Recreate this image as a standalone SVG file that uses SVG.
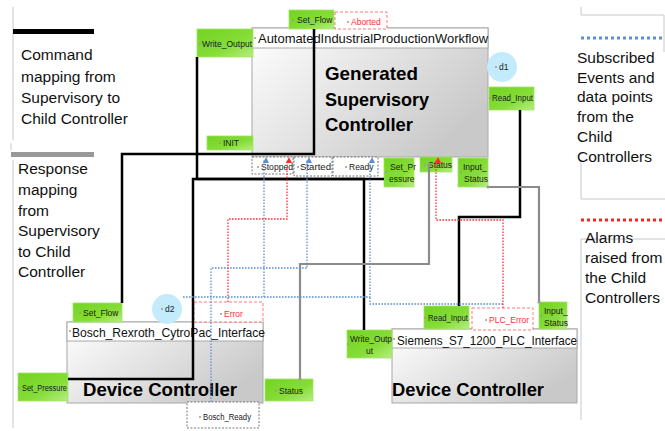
<svg xmlns="http://www.w3.org/2000/svg" width="665" height="431" viewBox="0 0 665 431">
  <defs>
    <linearGradient id="gPort" x1="0" y1="0" x2="1" y2="1">
      <stop offset="0" stop-color="#72d420"/>
      <stop offset="0.6" stop-color="#86dd38"/>
      <stop offset="1" stop-color="#b6ee82"/>
    </linearGradient>
    <linearGradient id="gBody" x1="0" y1="0" x2="1" y2="0.6">
      <stop offset="0" stop-color="#ffffff"/>
      <stop offset="1" stop-color="#c9c9c9"/>
    </linearGradient>
    <marker id="arBlue" viewBox="0 0 6 6" refX="3" refY="1" markerWidth="6" markerHeight="6" orient="auto-start-reverse" markerUnits="userSpaceOnUse">
      <path d="M0,6 L3,0 L6,6 Z" fill="#5b8fd5" transform="rotate(90 3 3)"/>
    </marker>
    <marker id="arRed" viewBox="0 0 6 6" refX="3" refY="1" markerWidth="6" markerHeight="6" orient="auto-start-reverse" markerUnits="userSpaceOnUse">
      <path d="M0,6 L3,0 L6,6 Z" fill="#ff2a2a" transform="rotate(90 3 3)"/>
    </marker>
  </defs>
  <style>
    .port { fill: url(#gPort); stroke: #a4e46a; stroke-width: 0.8; }
    .pt { font-family: "Liberation Sans", Arial, sans-serif; font-size: 8.5px; fill: #1a1a1a; }
    .rt { font-family: "Liberation Sans", Arial, sans-serif; font-size: 8.5px; fill: #ff3030; }
    .dot { fill: #9a9a9a; }
    .evt { fill: #ffffff; stroke: #555; stroke-width: 0.8; stroke-dasharray: 2 1.5; }
    .alm { fill: #ffffff; stroke: #ff6a6a; stroke-width: 0.9; stroke-dasharray: 3 2; }
    .body { fill: url(#gBody); stroke: #a8a8a8; stroke-width: 1; }
    .head { fill: #ffffff; stroke: #a8a8a8; stroke-width: 1; }
    .ttl { font-family: "Liberation Sans", Arial, sans-serif; font-size: 13px; fill: #111; }
    .big { font-family: "Liberation Sans", Arial, sans-serif; font-size: 19px; font-weight: bold; fill: #000; }
    .leg { font-family: "Liberation Sans", Arial, sans-serif; font-size: 15.5px; fill: #111; }
    .circ { fill: #c3ebfb; }
    .cmd { fill: none; stroke: #000; stroke-width: 2.5; }
    .rsp { fill: none; stroke: #8c8c8c; stroke-width: 2.2; }
    .sub { fill: none; stroke: #5b8fd5; stroke-width: 1.3; stroke-dasharray: 1.6 1.4; }
    .ala { fill: none; stroke: #ff3030; stroke-width: 1.3; stroke-dasharray: 1.6 1.4; }
    .frame { fill: none; stroke: #c8c8c8; stroke-width: 1; }
  </style>

  <!-- legend, left -->
  <g id="legend-left">
    <path class="frame" d="M13,7 V140 M11,143 V150 M13,160 V428"/>
    <rect x="13" y="29" width="81" height="5" fill="#000"/>
    <text class="leg" x="21" y="60">Command</text>
    <text class="leg" x="21" y="82">mapping from</text>
    <text class="leg" x="21" y="103">Supervisory to</text>
    <text class="leg" x="21" y="124">Child Controller</text>
    <rect x="11" y="152" width="83" height="5" fill="#999"/>
    <text class="leg" x="18" y="174">Response</text>
    <text class="leg" x="18" y="195">mapping</text>
    <text class="leg" x="18" y="216">from</text>
    <text class="leg" x="18" y="236">Supervisory</text>
    <text class="leg" x="18" y="257">to Child</text>
    <text class="leg" x="18" y="277">Controller</text>
  </g>

  <!-- legend, right -->
  <g id="legend-right">
    <path class="frame" d="M581,7 V15 H664 V52 M581,160 V199 H665 M581,239 H665 M581,239 V420"/>
    <line x1="581" y1="38" x2="665" y2="38" stroke="#5b8fd5" stroke-width="3" stroke-dasharray="3 3"/>
    <text class="leg" x="577" y="63">Subscribed</text>
    <text class="leg" x="577" y="83">Events and</text>
    <text class="leg" x="577" y="102">data points</text>
    <text class="leg" x="577" y="122">from the</text>
    <text class="leg" x="577" y="142">Child</text>
    <text class="leg" x="577" y="162">Controllers</text>
    <line x1="581" y1="220" x2="665" y2="220" stroke="#ff2020" stroke-width="3" stroke-dasharray="3 3"/>
    <text class="leg" x="585" y="243">Alarms</text>
    <text class="leg" x="585" y="263">raised from</text>
    <text class="leg" x="585" y="283">the Child</text>
    <text class="leg" x="585" y="303">Controllers</text>
  </g>

  <!-- supervisory controller -->
  <g id="supervisory">
    <rect class="body" x="252" y="28" width="236" height="129"/>
    <rect class="head" x="252" y="28" width="236" height="20"/>
    <circle class="dot" cx="255" cy="38" r="1"/>
    <text class="ttl" x="258" y="43" textLength="230" lengthAdjust="spacingAndGlyphs">AutomatedIndustrialProductionWorkflow</text>
    <text class="big" x="325" y="80" textLength="93" lengthAdjust="spacingAndGlyphs">Generated</text>
    <text class="big" x="325" y="106" textLength="104" lengthAdjust="spacingAndGlyphs">Supervisory</text>
    <text class="big" x="325" y="131" textLength="88" lengthAdjust="spacingAndGlyphs">Controller</text>
  </g>
  <g id="sup-write-output">
    <rect class="port" x="197" y="29" width="56" height="28"/>
    <circle class="dot" cx="200" cy="44" r="1"/>
    <text class="pt" x="202" y="47" textLength="50" lengthAdjust="spacingAndGlyphs">Write_Output</text>
  </g>
  <g id="sup-set-flow">
    <rect class="port" x="289" y="10" width="45" height="19"/>
    <circle class="dot" cx="293" cy="20" r="1"/>
    <text class="pt" x="297" y="23">Set_Flow</text>
  </g>
  <g id="sup-aborted">
    <rect class="alm" x="335" y="12" width="52" height="17"/>
    <circle class="dot" cx="348" cy="22" r="1"/>
    <text class="rt" x="351" y="25">Aborted</text>
  </g>
  <g id="sup-init">
    <rect class="port" x="207" y="136" width="46" height="14"/>
    <circle class="dot" cx="220" cy="143" r="1"/>
    <text class="pt" x="223" y="146">INIT</text>
  </g>
  <g id="d1">
    <circle class="circ" cx="502" cy="67" r="15"/>
    <circle class="dot" cx="496" cy="67" r="1"/>
    <text class="pt" x="499" y="70">d1</text>
  </g>
  <g id="sup-read-input">
    <rect class="port" x="489" y="87" width="45" height="23"/>
    <circle class="dot" cx="490" cy="98" r="1"/>
    <text class="pt" x="492" y="101" textLength="41" lengthAdjust="spacingAndGlyphs">Read_Input</text>
  </g>
  <g id="sup-stopped">
    <rect class="evt" x="252" y="157" width="41" height="17"/>
    <circle class="dot" cx="258" cy="167" r="1"/>
    <text class="pt" x="261" y="170" textLength="32" lengthAdjust="spacingAndGlyphs">Stopped</text>
  </g>
  <g id="sup-started">
    <rect class="evt" x="294" y="157" width="38" height="19"/>
    <circle class="dot" cx="298" cy="167" r="1"/>
    <text class="pt" x="300" y="170" textLength="31" lengthAdjust="spacingAndGlyphs">Started</text>
  </g>
  <g id="sup-ready">
    <rect class="evt" x="333" y="157" width="45" height="19"/>
    <circle class="dot" cx="346" cy="167" r="1"/>
    <text class="pt" x="349" y="170">Ready</text>
  </g>
  <g id="sup-set-pressure">
    <rect class="port" x="384" y="158" width="30" height="29"/>
    <circle class="dot" cx="386" cy="172" r="1"/>
    <text class="pt" x="390" y="170">Set_Pr</text>
    <text class="pt" x="389" y="182">essure</text>
  </g>
  <g id="sup-status">
    <rect class="port" x="420" y="157" width="32" height="15"/>
    <circle class="dot" cx="425" cy="165" r="1"/>
    <text class="pt" x="428" y="168">Status</text>
  </g>
  <g id="sup-input-status">
    <rect class="port" x="458" y="158" width="30" height="29"/>
    <circle class="dot" cx="461" cy="172" r="1"/>
    <text class="pt" x="463" y="170">Input_</text>
    <text class="pt" x="464" y="182">Status</text>
  </g>

  <!-- Bosch device controller -->
  <g id="bosch">
    <rect class="body" x="67" y="322" width="196" height="81"/>
    <rect class="head" x="67" y="322" width="196" height="19"/>
    <circle class="dot" cx="70" cy="331" r="1"/>
    <text class="ttl" x="72" y="337" textLength="193" lengthAdjust="spacingAndGlyphs">Bosch_Rexroth_CytroPac_Interface</text>
    <text class="big" x="83" y="396" textLength="154" lengthAdjust="spacingAndGlyphs">Device Controller</text>
  </g>
  <g id="bosch-set-flow">
    <rect class="port" x="73" y="303" width="49" height="19"/>
    <circle class="dot" cx="80" cy="313" r="1"/>
    <text class="pt" x="83" y="316">Set_Flow</text>
  </g>
  <g id="d2">
    <circle class="circ" cx="167" cy="309" r="15"/>
    <circle class="dot" cx="162" cy="309" r="1"/>
    <text class="pt" x="165" y="312">d2</text>
  </g>
  <g id="bosch-error">
    <rect class="alm" x="194" y="302" width="69" height="20"/>
    <circle class="dot" cx="221" cy="314" r="1"/>
    <text class="rt" x="224" y="317">Error</text>
  </g>
  <g id="bosch-set-pressure">
    <rect class="port" x="18" y="373" width="50" height="28"/>
    <circle class="dot" cx="19" cy="388" r="1"/>
    <text class="pt" x="22" y="391" textLength="45" lengthAdjust="spacingAndGlyphs">Set_Pressure</text>
  </g>
  <g id="bosch-status">
    <rect class="port" x="265" y="379" width="48" height="22"/>
    <circle class="dot" cx="276" cy="391" r="1"/>
    <text class="pt" x="279" y="394">Status</text>
  </g>
  <g id="bosch-ready">
    <rect class="evt" x="187" y="402" width="72" height="26"/>
    <circle class="dot" cx="200" cy="417" r="1"/>
    <text class="pt" x="203" y="420" textLength="48" lengthAdjust="spacingAndGlyphs">Bosch_Ready</text>
  </g>

  <!-- Siemens device controller -->
  <g id="siemens">
    <rect class="body" x="392" y="329" width="185" height="74"/>
    <rect class="head" x="392" y="329" width="185" height="19"/>
    <circle class="dot" cx="394" cy="339" r="1"/>
    <text class="ttl" x="397" y="345" textLength="180" lengthAdjust="spacingAndGlyphs">Siemens_S7_1200_PLC_Interface</text>
    <text class="big" x="392" y="396" textLength="152" lengthAdjust="spacingAndGlyphs">Device Controller</text>
  </g>
  <g id="siemens-write-output">
    <rect class="port" x="347" y="330" width="45" height="28"/>
    <circle class="dot" cx="348" cy="344" r="1"/>
    <text class="pt" x="350" y="342" textLength="42" lengthAdjust="spacingAndGlyphs">Write_Outp</text>
    <text class="pt" x="366" y="354">ut</text>
  </g>
  <g id="siemens-read-input">
    <rect class="port" x="424" y="306" width="45" height="23"/>
    <circle class="dot" cx="425" cy="318" r="1"/>
    <text class="pt" x="428" y="321" textLength="40" lengthAdjust="spacingAndGlyphs">Read_Input</text>
  </g>
  <g id="siemens-plc-error">
    <rect class="alm" x="472" y="308" width="61" height="22"/>
    <circle class="dot" cx="486" cy="320" r="1"/>
    <text class="rt" x="489" y="323">PLC_Error</text>
  </g>
  <g id="siemens-input-status">
    <rect class="port" x="539" y="302" width="28" height="27"/>
    <circle class="dot" cx="541" cy="316" r="1"/>
    <text class="pt" x="544" y="314">Input_</text>
    <text class="pt" x="544" y="326">Status</text>
  </g>

  <!-- connectors -->
  <g id="connectors">
    <!-- commands -->
    <path class="cmd" d="M314,29 V154 H122 V303"/>
    <path class="cmd" d="M197,57 V179 H364 V330"/>
    <path class="cmd" d="M384,179 H193 V379 H68"/>
    <path class="cmd" d="M520,110 V217 H459 V306"/>
    <!-- responses -->
    <path class="rsp" d="M429,164 V264 H300 V379"/>
    <path class="rsp" d="M488,187 H539 V302"/>
    <circle class="dot" cx="429" cy="164" r="1.5"/>
    <circle class="dot" cx="488" cy="187" r="1.5"/>
    <circle class="dot" cx="539" cy="302" r="1.5"/>
    <circle class="dot" cx="300" cy="379" r="1.5"/>
    <!-- subscribed events -->
    <path class="sub" d="M183,297 H264 V160" marker-end="url(#arBlue)"/>
    <path class="sub" d="M264,297 H370 V160" marker-end="url(#arBlue)"/>
    <path class="sub" d="M503,304 H370 V297"/>
    <path class="sub" d="M211,402 V268 H307 V160" marker-end="url(#arBlue)"/>
    <!-- alarms -->
    <path class="ala" d="M228,302 V219 H287 V160" marker-end="url(#arRed)"/>
    <path class="ala" d="M503,308 V220 H436 V160" marker-end="url(#arRed)"/>
  </g>
</svg>
